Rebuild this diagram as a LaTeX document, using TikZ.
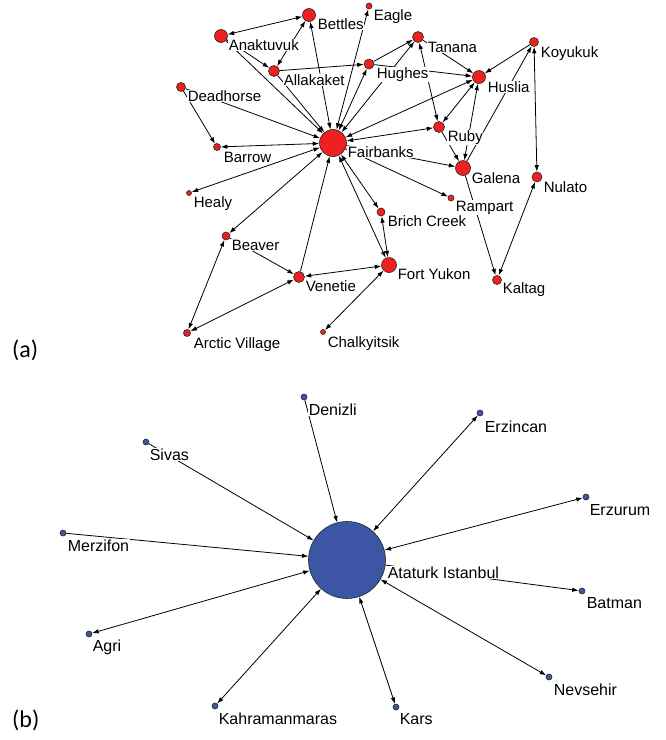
\documentclass[tikz,border=0pt]{standalone}
\usepackage{fontspec}
\setmainfont{Liberation Sans}
\newfontfamily\capfont{Carlito}
\usetikzlibrary{arrows.meta}
\definecolor{nred}{HTML}{EE2020}
\definecolor{nblue}{HTML}{3C55A5}
\begin{document}
\begin{tikzpicture}[x=1pt,y=-1pt,
  tip/.tip={Latex[length=6.5pt,width=4.5pt]},
  rn/.style={circle,draw=black!85,line width=0.6pt,fill=nred,inner sep=0pt},
  bn/.style={circle,draw=black!85,line width=0.6pt,fill=nblue,inner sep=0pt},
  ed/.style={line width=0.8pt,draw=black,-tip},
  bi/.style={line width=0.8pt,draw=black,tip-tip},
  lab/.style={font=\fontsize{15}{18}\selectfont,anchor=base west,inner sep=0.6pt,fill=white,text=black},
  labb/.style={font=\fontsize{16}{19}\selectfont,anchor=base west,inner sep=0.6pt,fill=white,text=black},
  capt/.style={font=\capfont\fontsize{24}{28}\selectfont,anchor=base west,inner sep=0pt}]
\useasboundingbox (0,0) rectangle (666,740);

% ---------- (a) nodes ----------
\node[rn,minimum size=27pt] (Fairbanks) at (333,143) {};
\node[rn,minimum size=13pt] (Bettles) at (309,15) {};
\node[rn,minimum size=6pt] (Eagle) at (369,6) {};
\node[rn,minimum size=13pt] (Anaktuvuk) at (221,36) {};
\node[rn,minimum size=11pt] (Allakaket) at (274,71) {};
\node[rn,minimum size=10pt] (Hughes) at (369,64) {};
\node[rn,minimum size=11pt] (Tanana) at (418,37) {};
\node[rn,minimum size=13pt] (Huslia) at (479,77) {};
\node[rn,minimum size=9pt] (Koyukuk) at (534,42) {};
\node[rn,minimum size=9pt] (Deadhorse) at (181,87) {};
\node[rn,minimum size=7pt] (Barrow) at (217,147) {};
\node[rn,minimum size=5pt] (Healy) at (189,193) {};
\node[rn,minimum size=11pt] (Ruby) at (439,127) {};
\node[rn,minimum size=15pt] (Galena) at (463,168) {};
\node[rn,minimum size=10pt] (Nulato) at (537,177) {};
\node[rn,minimum size=6pt] (Rampart) at (451,198) {};
\node[rn,minimum size=8pt] (Brich) at (381,212) {};
\node[rn,minimum size=8pt] (Beaver) at (226,236) {};
\node[rn,minimum size=11pt] (Venetie) at (299,277) {};
\node[rn,minimum size=15pt] (FortYukon) at (389,265) {};
\node[rn,minimum size=9pt] (Kaltag) at (497,280) {};
\node[rn,minimum size=7pt] (Arctic) at (187,333) {};
\node[rn,minimum size=5pt] (Chalky) at (323,332) {};

% ---------- (a) edges ----------
\draw[bi] (Anaktuvuk) -- (Bettles);
\draw[ed] (Anaktuvuk) -- (Allakaket);
\draw[bi] (Allakaket) -- (Bettles);
\draw[ed] (Anaktuvuk) -- (Fairbanks);
\draw[ed] (Allakaket) -- (Fairbanks);
\draw[bi] (Bettles) -- (Fairbanks);
\draw[bi] (Eagle) -- (Fairbanks);
\draw[bi] (Hughes) -- (Fairbanks);
\draw[ed] (Allakaket) -- (Hughes);
\draw[ed] (Hughes) -- (Tanana);
\draw[bi] (Fairbanks) -- (Tanana);
\draw[ed] (Deadhorse) -- (Barrow);
\draw[ed] (Deadhorse) -- (Fairbanks);
\draw[bi] (Barrow) -- (Fairbanks);
\draw[ed] (Tanana) -- (Huslia);
\draw[ed] (Hughes) -- (Huslia);
\draw[bi] (Fairbanks) -- (Huslia);
\draw[bi] (Tanana) -- (Ruby);
\draw[bi] (Huslia) -- (Ruby);
\draw[bi] (Huslia) -- (Galena);
\draw[ed] (Koyukuk) -- (Huslia);
\draw[ed] (Galena) -- (Koyukuk);
\draw[bi] (Koyukuk) -- (Nulato);
\draw[ed] (Ruby) -- (Galena);
\draw[bi] (Fairbanks) -- (Ruby);
\draw[ed] (Fairbanks) -- (Galena);
\draw[ed] (Fairbanks) -- (Rampart);
\draw[ed] (Galena) -- (Kaltag);
\draw[bi] (Nulato) -- (Kaltag);
\draw[bi] (Fairbanks) -- (Healy);
\draw[bi] (Fairbanks) -- (Beaver);
\draw[ed] (Venetie) -- (Fairbanks);
\draw[bi] (Fairbanks) -- (Brich);
\draw[bi] (Fairbanks) -- (FortYukon);
\draw[bi] (Brich) -- (FortYukon);
\draw[ed] (Beaver) -- (Venetie);
\draw[bi] (Venetie) -- (FortYukon);
\draw[bi] (Arctic) -- (Beaver);
\draw[bi] (Arctic) -- (Venetie);
\draw[bi] (FortYukon) -- (Chalky);

% ---------- (a) labels ----------
\node[lab] (lBettles) at (317,29) {Bettles};
\node[lab] (lEagle) at (373,20) {Eagle};
\node[lab] (lAnaktuvuk) at (228,50) {Anaktuvuk};
\node[lab] (lAllakaket) at (283,85) {Allakaket};
\node[lab] (lHughes) at (376,78) {Hughes};
\node[lab] (lDeadhorse) at (187,101) {Deadhorse};
\node[lab] (lBarrow) at (223,162) {Barrow};
\node[lab] (lFairbanks) at (347,157) {Fairbanks};
\node[lab] (lTanana) at (427,52) {Tanana};
\node[lab] (lKoyukuk) at (540,57) {Koyukuk};
\node[lab] (lHuslia) at (487,92) {Huslia};
\node[lab] (lRuby) at (447,141) {Ruby};
\node[lab] (lGalena) at (471,183) {Galena};
\node[lab] (lNulato) at (543,192) {Nulato};
\node[lab] (lRampart) at (455,211) {Rampart};
\node[lab] (lHealy) at (193,207) {Healy};
\node[lab] (lBeaver) at (231,250) {Beaver};
\node[lab] (lBrich) at (387,226) {Brich Creek};
\node[lab] (lVenetie) at (305,291) {Venetie};
\node[lab] (lFortYukon) at (397,279) {Fort Yukon};
\node[lab] (lKaltag) at (502,293) {Kaltag};
\node[lab] (lArctic) at (193,348) {Arctic Village};
\node[lab] (lChalky) at (327,347) {Chalkyitsik};

\node[capt] (capa) at (12,357) {(a)};

% ---------- (b) nodes ----------
\node[bn,minimum size=77pt] (Ataturk) at (347,560) {};
\node[bn,minimum size=6pt] (Denizli) at (304,397) {};
\node[bn,minimum size=6pt] (Sivas) at (146,442) {};
\node[bn,minimum size=6pt] (Merzifon) at (63,533) {};
\node[bn,minimum size=6pt] (Agri) at (89,634) {};
\node[bn,minimum size=6pt] (Kahraman) at (215,706) {};
\node[bn,minimum size=6pt] (Kars) at (396,707) {};
\node[bn,minimum size=6pt] (Nevsehir) at (549,677) {};
\node[bn,minimum size=6pt] (Batman) at (582,591) {};
\node[bn,minimum size=6pt] (Erzurum) at (586,497) {};
\node[bn,minimum size=6pt] (Erzincan) at (480,413) {};

% ---------- (b) edges ----------
\draw[ed] (Denizli) -- (Ataturk);
\draw[ed] (Sivas) -- (Ataturk);
\draw[ed] (Merzifon) -- (Ataturk);
\draw[bi] (Agri) -- (Ataturk);
\draw[bi] (Kahraman) -- (Ataturk);
\draw[bi] (Kars) -- (Ataturk);
\draw[bi] (Nevsehir) -- (Ataturk);
\draw[ed] (Ataturk) -- (Batman);
\draw[bi] (Erzurum) -- (Ataturk);
\draw[bi] (Erzincan) -- (Ataturk);

% ---------- (b) labels ----------
\node[labb] (lDenizli) at (308,415) {Denizli};
\node[labb] (lSivas) at (149,460) {Sivas};
\node[labb] (lMerzifon) at (67,551) {Merzifon};
\node[labb] (lAgri) at (92,651) {Agri};
\node[labb] (lKahraman) at (218,724) {Kahramanmaras};
\node[labb] (lKars) at (399,724) {Kars};
\node[labb] (lNevsehir) at (553,695) {Nevsehir};
\node[labb] (lBatman) at (586,608) {Batman};
\node[labb] (lAtaturk) at (387,578) {Ataturk Istanbul};
\node[labb] (lErzincan) at (484,432) {Erzincan};
\node[labb] (lErzurum) at (589,515) {Erzurum};

\node[capt] (capb) at (12,727) {(b)};
\end{tikzpicture}
\end{document}
